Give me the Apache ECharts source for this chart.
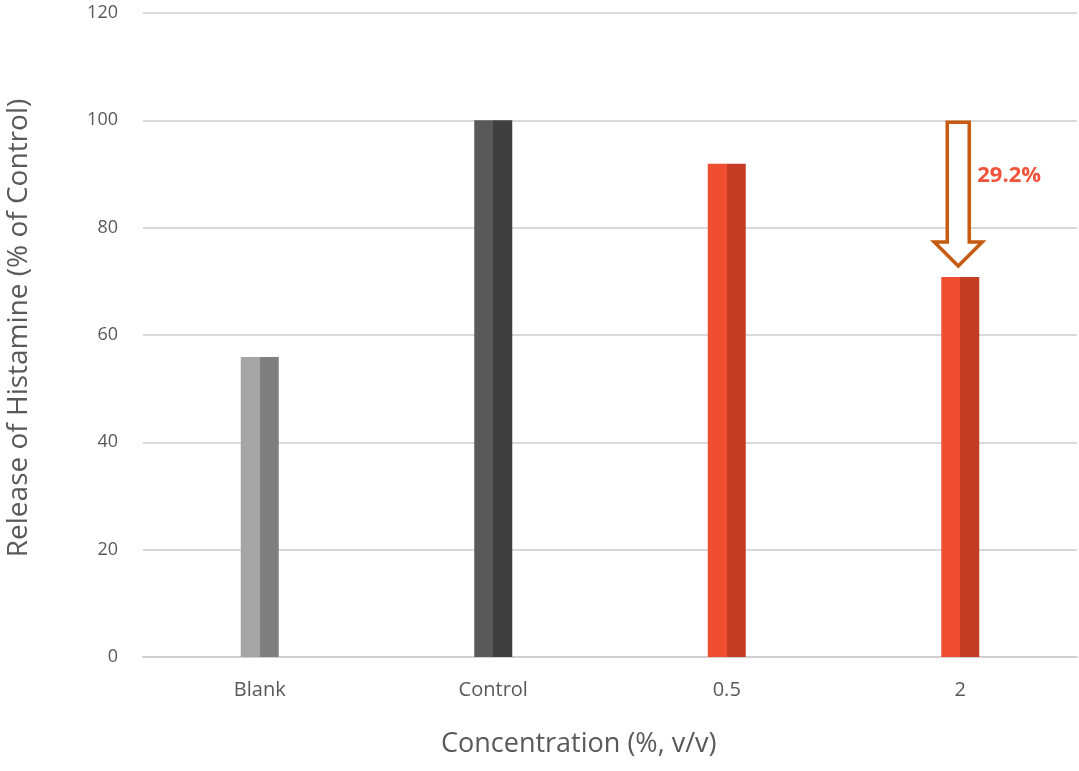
<!DOCTYPE html>
<html>
<head>
<meta charset="utf-8">
<script src="https://cdn.jsdelivr.net/npm/echarts@6/dist/echarts.min.js"></script>
<style>
html,body{margin:0;padding:0;background:#fff;}
#chart{width:1079px;height:771px;}
</style>
</head>
<body>
<div id="chart"></div>
<script>
// Histamine release by concentration
const categories = ['Blank', 'Control', '0.5', '2'];
const releaseValues = [55.9, 100, 91.9, 70.8];
const yTicks = [0, 20, 40, 60, 80, 100, 120];
// two-tone fills per bar: [left half, right half]
const barTones = [
  ['#a5a5a5', '#7f7f7f'],
  ['#595959', '#3f3f3f'],
  ['#f04e30', '#c43c23'],
  ['#f04e30', '#c43c23']
];
// reduction arrow: from the Control level down to the last bar
const arrowFrom = 100;
const arrowIndex = 3;

const FONT = '"Open Sans", "Noto Sans", sans-serif';
const chart = echarts.init(document.getElementById('chart'));

function twoTone(pair) {
  return new echarts.graphic.LinearGradient(0, 0, 1, 0, [
    { offset: 0, color: pair[0] },
    { offset: 0.5, color: pair[0] },
    { offset: 0.5, color: pair[1] },
    { offset: 1, color: pair[1] }
  ]);
}

const arrowTo = releaseValues[arrowIndex];
const dropPct = (arrowFrom - arrowTo).toFixed(1) + '%';

chart.setOption({
  animation: false,
  grid: { left: 143, right: 2, top: 13, bottom: 114, containLabel: false, outerBoundsMode: 'none' },
  xAxis: {
    type: 'category',
    data: categories,
    axisTick: { show: false },
    axisLine: { lineStyle: { color: '#d0d0d0', width: 2 } },
    axisLabel: { color: '#595959', fontFamily: FONT, fontSize: 20, margin: 23 }
  },
  yAxis: {
    type: 'value',
    min: 0, max: 120, interval: 20,
    axisLabel: {
      color: '#595959', fontFamily: FONT, fontSize: 18, margin: 25,
      formatter: v => yTicks.includes(v) ? String(v) : ''
    },
    splitLine: { lineStyle: { color: '#d9d9d9', width: 2 } },
    axisLine: { show: false },
    axisTick: { show: false }
  },
  graphic: [
    {
      type: 'text',
      x: 19,
      y: 328,
      rotation: Math.PI / 2,
      style: {
        text: 'Release of Histamine (% of Control)',
        fill: '#595959',
        font: '28px ' + FONT,
        textAlign: 'center',
        textVerticalAlign: 'middle'
      }
    },
    {
      type: 'text',
      left: 441,
      top: 731,
      style: {
        text: 'Concentration (%, v/v)',
        fill: '#595959',
        font: '27px ' + FONT
      }
    }
  ],
  series: [
    {
      type: 'bar',
      barWidth: 38,
      data: releaseValues.map((v, i) => ({
        value: v,
        itemStyle: { color: twoTone(barTones[i]) }
      }))
    },
    {
      type: 'custom',
      data: [[arrowIndex, arrowFrom, arrowTo]],
      z: 5,
      renderItem: function (params, api) {
        const top = api.coord([api.value(0), api.value(1)]);
        const bot = api.coord([api.value(0), api.value(2)]);
        const cx = top[0] - 2;
        const y0 = top[1] + 2;
        const tip = bot[1] - 11;
        const headH = 24;
        const shaftHalf = 11;
        const headHalf = 24;
        const pts = [
          [cx - shaftHalf, y0],
          [cx + shaftHalf, y0],
          [cx + shaftHalf, tip - headH],
          [cx + headHalf, tip - headH],
          [cx, tip],
          [cx - headHalf, tip - headH],
          [cx - shaftHalf, tip - headH]
        ];
        return {
          type: 'group',
          children: [
            {
              type: 'polygon',
              shape: { points: pts },
              style: { fill: '#ffffff', stroke: '#c55a11', lineWidth: 3.5, lineJoin: 'miter' }
            },
            {
              type: 'text',
              x: cx + 19,
              y: (y0 + tip) / 2 - 18,
              style: {
                text: dropPct,
                fill: '#f0533a',
                font: 'bold 22px ' + FONT,
                textAlign: 'left',
                textVerticalAlign: 'middle'
              }
            }
          ]
        };
      }
    }
  ]
});
</script>
</body>
</html>
